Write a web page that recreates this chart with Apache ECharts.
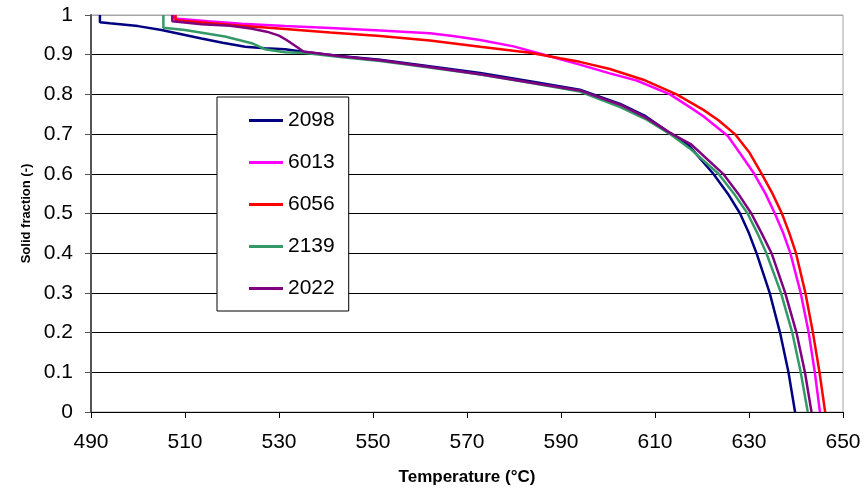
<!DOCTYPE html>
<html>
<head>
<meta charset="utf-8">
<script src="https://cdn.jsdelivr.net/npm/echarts@6/dist/echarts.min.js"></script>
<style>
  html, body { margin: 0; padding: 0; background: #fff; }
  #chart { width: 866px; height: 491px; }
</style>
</head>
<body>
<div id="chart"></div>
<script>
// alloy names, in legend order
const alloys = ['2098', '6013', '6056', '2139', '2022']

// temperature (°C) / solid fraction (-) per alloy
const temp2098 = [491.9, 491.9, 494, 500, 505, 513.5, 518, 522.8, 527, 531.3, 535.5, 543, 551.5, 562, 572.8, 583.4, 594, 602.6, 608, 613.2, 617, 622.4, 625.5, 628.1, 630, 631.6, 634.4, 636.6, 638.4, 639.8]
const frac2098 = [1, 0.982, 0.979, 0.972, 0.962, 0.941, 0.93, 0.92, 0.916, 0.914, 0.907, 0.897, 0.887, 0.871, 0.854, 0.833, 0.812, 0.776, 0.745, 0.703, 0.674, 0.6, 0.55, 0.5, 0.45, 0.4, 0.3, 0.2, 0.1, 0]

const temp6013 = [507.7, 507.7, 515, 522, 531.3, 540.9, 551.5, 562.1, 567, 572.8, 579.9, 587, 594, 600.4, 606.1, 613.2, 617.4, 620.3, 625.5, 628.5, 631.1, 633.5, 635.5, 637.3, 638.8, 641, 642.7, 644, 645.1]
const frac6013 = [1, 0.991, 0.984, 0.978, 0.972, 0.967, 0.961, 0.954, 0.947, 0.937, 0.921, 0.898, 0.875, 0.853, 0.835, 0.8, 0.768, 0.745, 0.695, 0.645, 0.6, 0.55, 0.5, 0.45, 0.4, 0.3, 0.2, 0.1, 0]

const temp6056 = [508, 508, 515, 522, 531.3, 540.9, 551.5, 562.1, 572.8, 583.4, 589.8, 594, 600.4, 607.5, 614.6, 620.3, 623.5, 627, 630, 632.7, 635, 637, 638.6, 640, 642, 643.6, 645, 646.2]
const frac6056 = [1, 0.987, 0.98, 0.973, 0.965, 0.956, 0.947, 0.936, 0.92, 0.905, 0.891, 0.882, 0.864, 0.837, 0.8, 0.761, 0.735, 0.7, 0.655, 0.6, 0.55, 0.5, 0.45, 0.4, 0.3, 0.2, 0.1, 0]

const temp2139 = [505.4, 505.4, 510, 518.5, 524.2, 527, 531.3, 535.5, 543, 551.5, 562, 572.8, 583.4, 594, 602.6, 608, 613.2, 617.4, 623.5, 626.8, 629.7, 631.8, 633.7, 636.8, 639.2, 641, 642.5]
const frac2139 = [1, 0.968, 0.962, 0.946, 0.929, 0.914, 0.906, 0.904, 0.894, 0.884, 0.868, 0.85, 0.829, 0.807, 0.768, 0.738, 0.7, 0.664, 0.6, 0.55, 0.5, 0.45, 0.4, 0.3, 0.2, 0.1, 0]

const temp2022 = [507.3, 507.3, 513.5, 519.6, 524, 527.4, 530, 531.6, 533.5, 535.2, 543, 551.5, 562, 572.8, 583.4, 594, 602.6, 608, 613.2, 617.6, 624.5, 627.7, 630.5, 632.7, 634.8, 637.7, 640.1, 641.9, 643.3]
const frac2022 = [1, 0.984, 0.977, 0.973, 0.966, 0.958, 0.948, 0.937, 0.922, 0.908, 0.896, 0.886, 0.869, 0.851, 0.83, 0.81, 0.774, 0.742, 0.703, 0.675, 0.6, 0.55, 0.5, 0.45, 0.4, 0.3, 0.2, 0.1, 0]

const temps = [temp2098, temp6013, temp6056, temp2139, temp2022]
const fracs = [frac2098, frac6013, frac6056, frac2139, frac2022]
const lineColors = ['#000080', '#ff00ff', '#ff0000', '#339966', '#800080']

const font = 'Liberation Sans, Arial, sans-serif'

const myChart = echarts.init(document.getElementById('chart'), null, { renderer: 'canvas' })
myChart.setOption({
  animation: false,
  backgroundColor: '#fff',
  grid: {
    left: 91,
    right: 23,
    top: 15,
    bottom: 78,
    show: true,
    borderColor: '#a6a6a6',
    borderWidth: 1
  },
  legend: {
    orient: 'vertical',
    left: 217,
    top: 97,
    data: alloys.map(n => ({ name: n, icon: 'rect' })),
    itemWidth: 34,
    itemHeight: 3,
    itemGap: 21,
    padding: [13, 14, 12, 32],
    backgroundColor: '#fff',
    borderColor: '#000',
    borderWidth: 1,
    borderRadius: 0,
    textStyle: { fontFamily: font, fontSize: 21, color: '#000' }
  },
  xAxis: {
    type: 'value',
    min: 490,
    max: 650,
    interval: 20,
    name: 'Temperature (°C)',
    nameLocation: 'middle',
    nameGap: 57,
    nameTextStyle: { fontFamily: font, fontSize: 17, fontWeight: 'bold', color: '#000' },
    axisLine: { onZero: false, lineStyle: { color: '#000', width: 1 } },
    axisTick: { show: true, inside: false, length: 6, lineStyle: { color: '#000' } },
    axisLabel: { fontFamily: font, fontSize: 21, color: '#000', margin: 20 },
    splitLine: { show: false }
  },
  yAxis: {
    type: 'value',
    min: 0,
    max: 1,
    interval: 0.1,
    name: 'Solid fraction (-)',
    nameLocation: 'middle',
    nameGap: 57,
    nameRotate: 90,
    nameTextStyle: { fontFamily: font, fontSize: 13, fontWeight: 'bold', color: '#000' },
    axisLine: { show: true, lineStyle: { color: '#555', width: 2 } },
    axisTick: { show: true, inside: false, length: 6, lineStyle: { color: '#555' } },
    axisLabel: { fontFamily: font, fontSize: 21, color: '#000', margin: 18 },
    splitLine: {
      show: true,
      lineStyle: {
        color: ['#000', '#000', '#000', '#000', '#000', '#000', '#000', '#000', '#000', '#000', '#a6a6a6'],
        width: 1
      }
    }
  },
  series: alloys.map((name, i) => ({
    name: name,
    type: 'line',
    data: temps[i].map((t, j) => [t, fracs[i][j]]),
    showSymbol: false,
    color: lineColors[i],
    lineStyle: { width: 2.5, color: lineColors[i] },
    clip: true
  }))
})
</script>
</body>
</html>
